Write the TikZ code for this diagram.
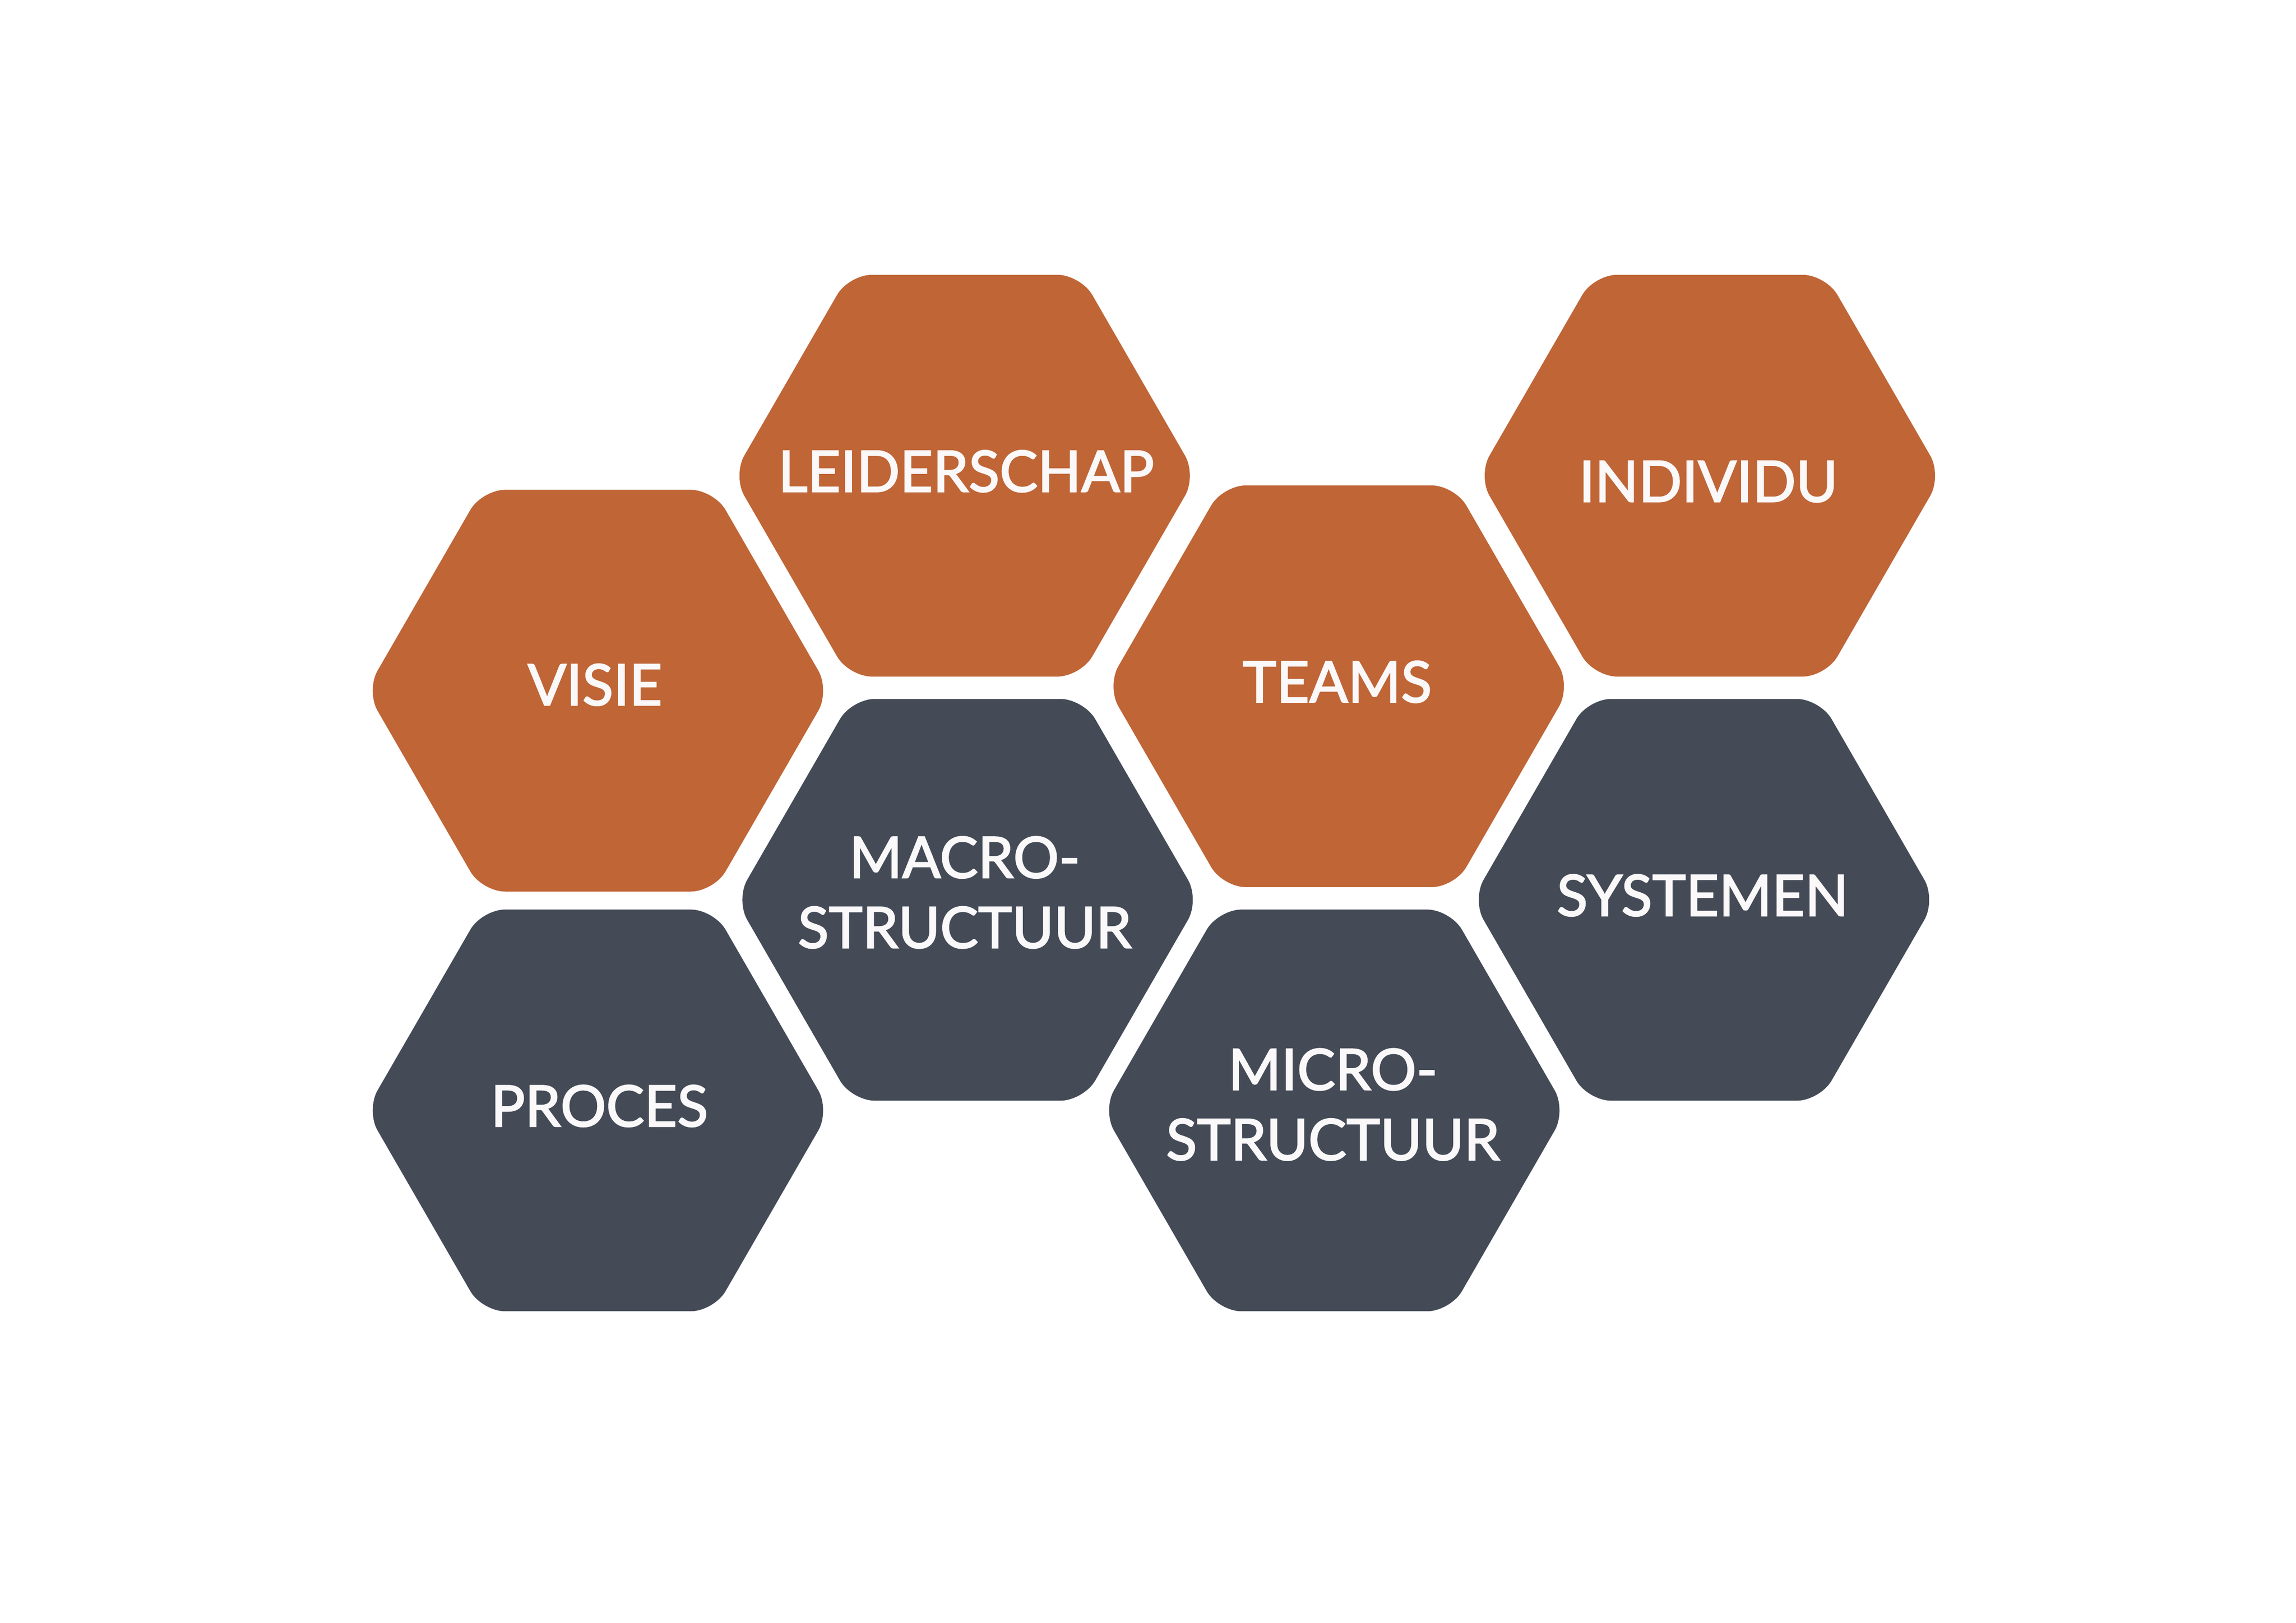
\documentclass[tikz,border=0pt]{standalone}
\usepackage{fontspec}
\setmainfont{Lato}
\newfontfamily\hexfont{Lato}[FakeBold=2.2]
\definecolor{hexorange}{HTML}{C06536}
\definecolor{hexdark}{HTML}{444B57}
\definecolor{hextext}{HTML}{FAF8F9}
\tikzset{
  hexlabel/.style={text=hextext, font=\hexfont\fontsize{21}{25.8}\selectfont, align=center, inner sep=0pt},
  hexshape/.style={rounded corners=0.3cm},
}
\newcommand\hexcell[3]{%
  \begin{scope}[shift={(#1,#2)}]
    \fill[hexshape,#3] (157.5,0) -- (78.75,136.4) -- (-78.75,136.4) -- (-157.5,0)
      -- (-78.75,-136.4) -- (78.75,-136.4) -- cycle;
  \end{scope}}
\begin{document}
\begin{tikzpicture}[x=0.019051cm, y=-0.019051cm]
  \useasboundingbox (0,0) rectangle (1559,1102);
  % hexagons
  \hexcell{655}{323}{hexorange}
  \hexcell{1161}{323}{hexorange}
  \hexcell{406}{469}{hexorange}
  \hexcell{909}{466}{hexorange}
  \hexcell{657}{611}{hexdark}
  \hexcell{1157}{611}{hexdark}
  \hexcell{406}{754}{hexdark}
  \hexcell{906}{754}{hexdark}
  % labels
  \node[hexlabel] (leiderschap) at (656,320) {LEIDERSCHAP};
  \node[hexlabel] (individu) at (1160,327) {INDIVIDU};
  \node[hexlabel] (visie) at (404,465) {VISIE};
  \node[hexlabel] (teams) at (908,463) {TEAMS};
  \node[hexlabel] (macro) at (655,606) {MACRO-\\STRUCTUUR};
  \node[hexlabel] (systemen) at (1156,608) {SYSTEMEN};
  \node[hexlabel] (proces) at (407,751) {PROCES};
  \node[hexlabel] (micro) at (905,750) {MICRO-\\STRUCTUUR};
\end{tikzpicture}
\end{document}
